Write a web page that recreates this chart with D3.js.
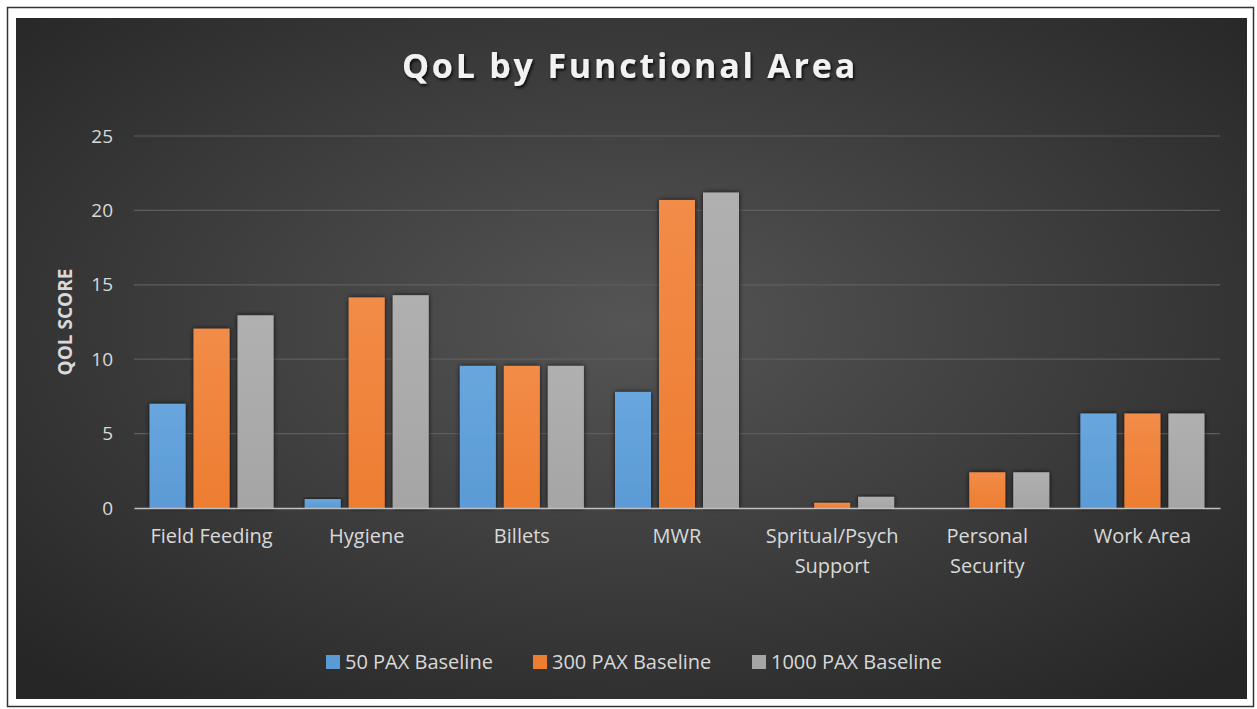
<!DOCTYPE html>
<html>
<head>
<meta charset="utf-8">
<script src="https://cdn.jsdelivr.net/npm/d3@7"></script>
<style>
  body { margin: 0; background: #fff; }
  svg { display: block; }
  text { font-family: "Open Sans", "Liberation Sans", sans-serif; }
</style>
</head>
<body>
<script>
// chart data
var categories = ["Field Feeding", "Hygiene", "Billets", "MWR", "Spritual/Psych Support", "Personal Security", "Work Area"];
var seriesNames = ["50 PAX Baseline", "300 PAX Baseline", "1000 PAX Baseline"];
var pax50 = [7.0, 0.6, 9.55, 7.8, 0, 0, 6.35];
var pax300 = [12.05, 14.15, 9.55, 20.7, 0.35, 2.4, 6.35];
var pax1000 = [12.95, 14.3, 9.55, 21.2, 0.75, 2.4, 6.35];
var yTicks = [0, 5, 10, 15, 20, 25];

var W = 1257, H = 709;
var colors = ["#5b9bd5", "#ed7d31", "#a5a5a5"];
var lightColors = ["#68a6de", "#f28c48", "#b0b0b0"];

var svg = d3.select("body").append("svg")
  .attr("width", W)
  .attr("height", H);

var defs = svg.append("defs");

// background gradient
var bg = defs.append("radialGradient")
  .attr("id", "bg")
  .attr("cx", "50%").attr("cy", "45%").attr("r", "70%");
bg.append("stop").attr("offset", "0%").attr("stop-color", "#555555");
bg.append("stop").attr("offset", "100%").attr("stop-color", "#262626");

// bar gradients
colors.forEach(function(c, i) {
  var g = defs.append("linearGradient")
    .attr("id", "bar" + i)
    .attr("x1", 0).attr("y1", 0).attr("x2", 0).attr("y2", 1);
  g.append("stop").attr("offset", "0%").attr("stop-color", lightColors[i]);
  g.append("stop").attr("offset", "100%").attr("stop-color", c);
});

var shadow = defs.append("filter").attr("id", "shadow")
  .attr("x", "-20%").attr("y", "-20%").attr("width", "140%").attr("height", "140%");
shadow.append("feDropShadow")
  .attr("dx", 0).attr("dy", 0).attr("stdDeviation", 2.5)
  .attr("flood-color", "#000").attr("flood-opacity", 0.8);

var tshadow = defs.append("filter").attr("id", "tshadow");
tshadow.append("feDropShadow")
  .attr("dx", 1.5).attr("dy", 2).attr("stdDeviation", 1.5)
  .attr("flood-color", "#000").attr("flood-opacity", 0.8);

// outer frame
svg.append("rect")
  .attr("x", 7.5).attr("y", 7.5)
  .attr("width", W - 11).attr("height", H - 10)
  .attr("fill", "#fff")
  .attr("stroke", "#333").attr("stroke-width", 1.5);

// dark panel
svg.append("rect")
  .attr("x", 16).attr("y", 18)
  .attr("width", 1231).attr("height", 681)
  .attr("fill", "url(#bg)");

// scales
var plotLeft = 134, plotRight = 1220;
var x = d3.scaleBand().domain(categories).range([plotLeft, plotRight]);
var groupW = 124;
var x1 = d3.scaleBand().domain(d3.range(3)).range([0, groupW]).paddingInner(8 / 44);
var y = d3.scaleLinear().domain([0, 25]).range([508, 136]);

// gridlines
svg.append("g")
  .selectAll("line")
  .data(yTicks.filter(function(d) { return d > 0; }))
  .enter().append("line")
  .attr("x1", plotLeft).attr("x2", plotRight)
  .attr("y1", function(d) { return y(d); })
  .attr("y2", function(d) { return y(d); })
  .attr("stroke", "#5e5e5e")
  .attr("stroke-width", 1.2);

// y axis labels
var yAxis = d3.axisLeft(y).tickValues(yTicks).tickSize(0).tickPadding(21);
var yg = svg.append("g")
  .attr("transform", "translate(" + plotLeft + ",0)")
  .call(yAxis);
yg.select(".domain").remove();
yg.selectAll("text")
  .attr("fill", "#d9d9d9")
  .style("font-size", "19px");

// bars
var allSeries = [pax50, pax300, pax1000];
var groups = svg.append("g")
  .selectAll("g")
  .data(categories)
  .enter().append("g")
  .attr("transform", function(d) {
    return "translate(" + (x(d) + (x.bandwidth() - groupW) / 2) + ",0)";
  });

groups.selectAll("rect")
  .data(function(d, ci) {
    return allSeries.map(function(s, si) { return {si: si, v: s[ci]}; })
      .filter(function(e) { return e.v > 0; });
  })
  .enter().append("rect")
  .attr("x", function(d) { return x1(d.si); })
  .attr("width", x1.bandwidth())
  .attr("y", function(d) { return y(d.v); })
  .attr("height", function(d) { return y(0) - y(d.v); })
  .attr("fill", function(d) { return "url(#bar" + d.si + ")"; })
  .attr("filter", "url(#shadow)");

// x axis
var xAxis = d3.axisBottom(x).tickSize(0).tickPadding(0);
var xg = svg.append("g")
  .attr("transform", "translate(0," + y(0) + ")")
  .call(xAxis);
xg.select(".domain")
  .attr("stroke", "#bfbfbf")
  .attr("stroke-width", 1.5);
xg.selectAll(".tick text").remove();

// category labels, wrapped like the original
var labelLines = {
  "Spritual/Psych Support": ["Spritual/Psych", "Support"],
  "Personal Security": ["Personal", "Security"]
};
xg.selectAll(".tick").each(function(d) {
  var lines = labelLines[d] || [d];
  var t = d3.select(this).append("text")
    .attr("fill", "#d9d9d9")
    .attr("text-anchor", "middle")
    .style("font-size", "20px");
  lines.forEach(function(l, i) {
    t.append("tspan").attr("x", 0).attr("y", 35 + i * 30).text(l);
  });
});

// y axis title
svg.append("text")
  .attr("transform", "translate(72,322) rotate(-90)")
  .attr("text-anchor", "middle")
  .attr("fill", "#d9d9d9")
  .style("font-size", "19px")
  .style("font-weight", "bold")
  .text("QOL SCORE");

// title
svg.append("text")
  .attr("x", 630).attr("y", 78)
  .attr("text-anchor", "middle")
  .attr("fill", "#f2f2f2")
  .style("font-size", "34px")
  .style("font-weight", "bold")
  .style("letter-spacing", "2.8px")
  .attr("filter", "url(#tshadow)")
  .text("QoL by Functional Area");

// legend
var legendX = [326, 533, 752];
var legend = svg.append("g")
  .selectAll("g")
  .data(seriesNames)
  .enter().append("g")
  .attr("transform", function(d, i) { return "translate(" + legendX[i] + ",655)"; });
legend.append("rect")
  .attr("width", 14).attr("height", 14)
  .attr("fill", function(d, i) { return colors[i]; });
legend.append("text")
  .attr("x", 19).attr("y", 14)
  .attr("fill", "#d9d9d9")
  .style("font-size", "20px")
  .text(function(d) { return d; });
</script>
</body>
</html>
